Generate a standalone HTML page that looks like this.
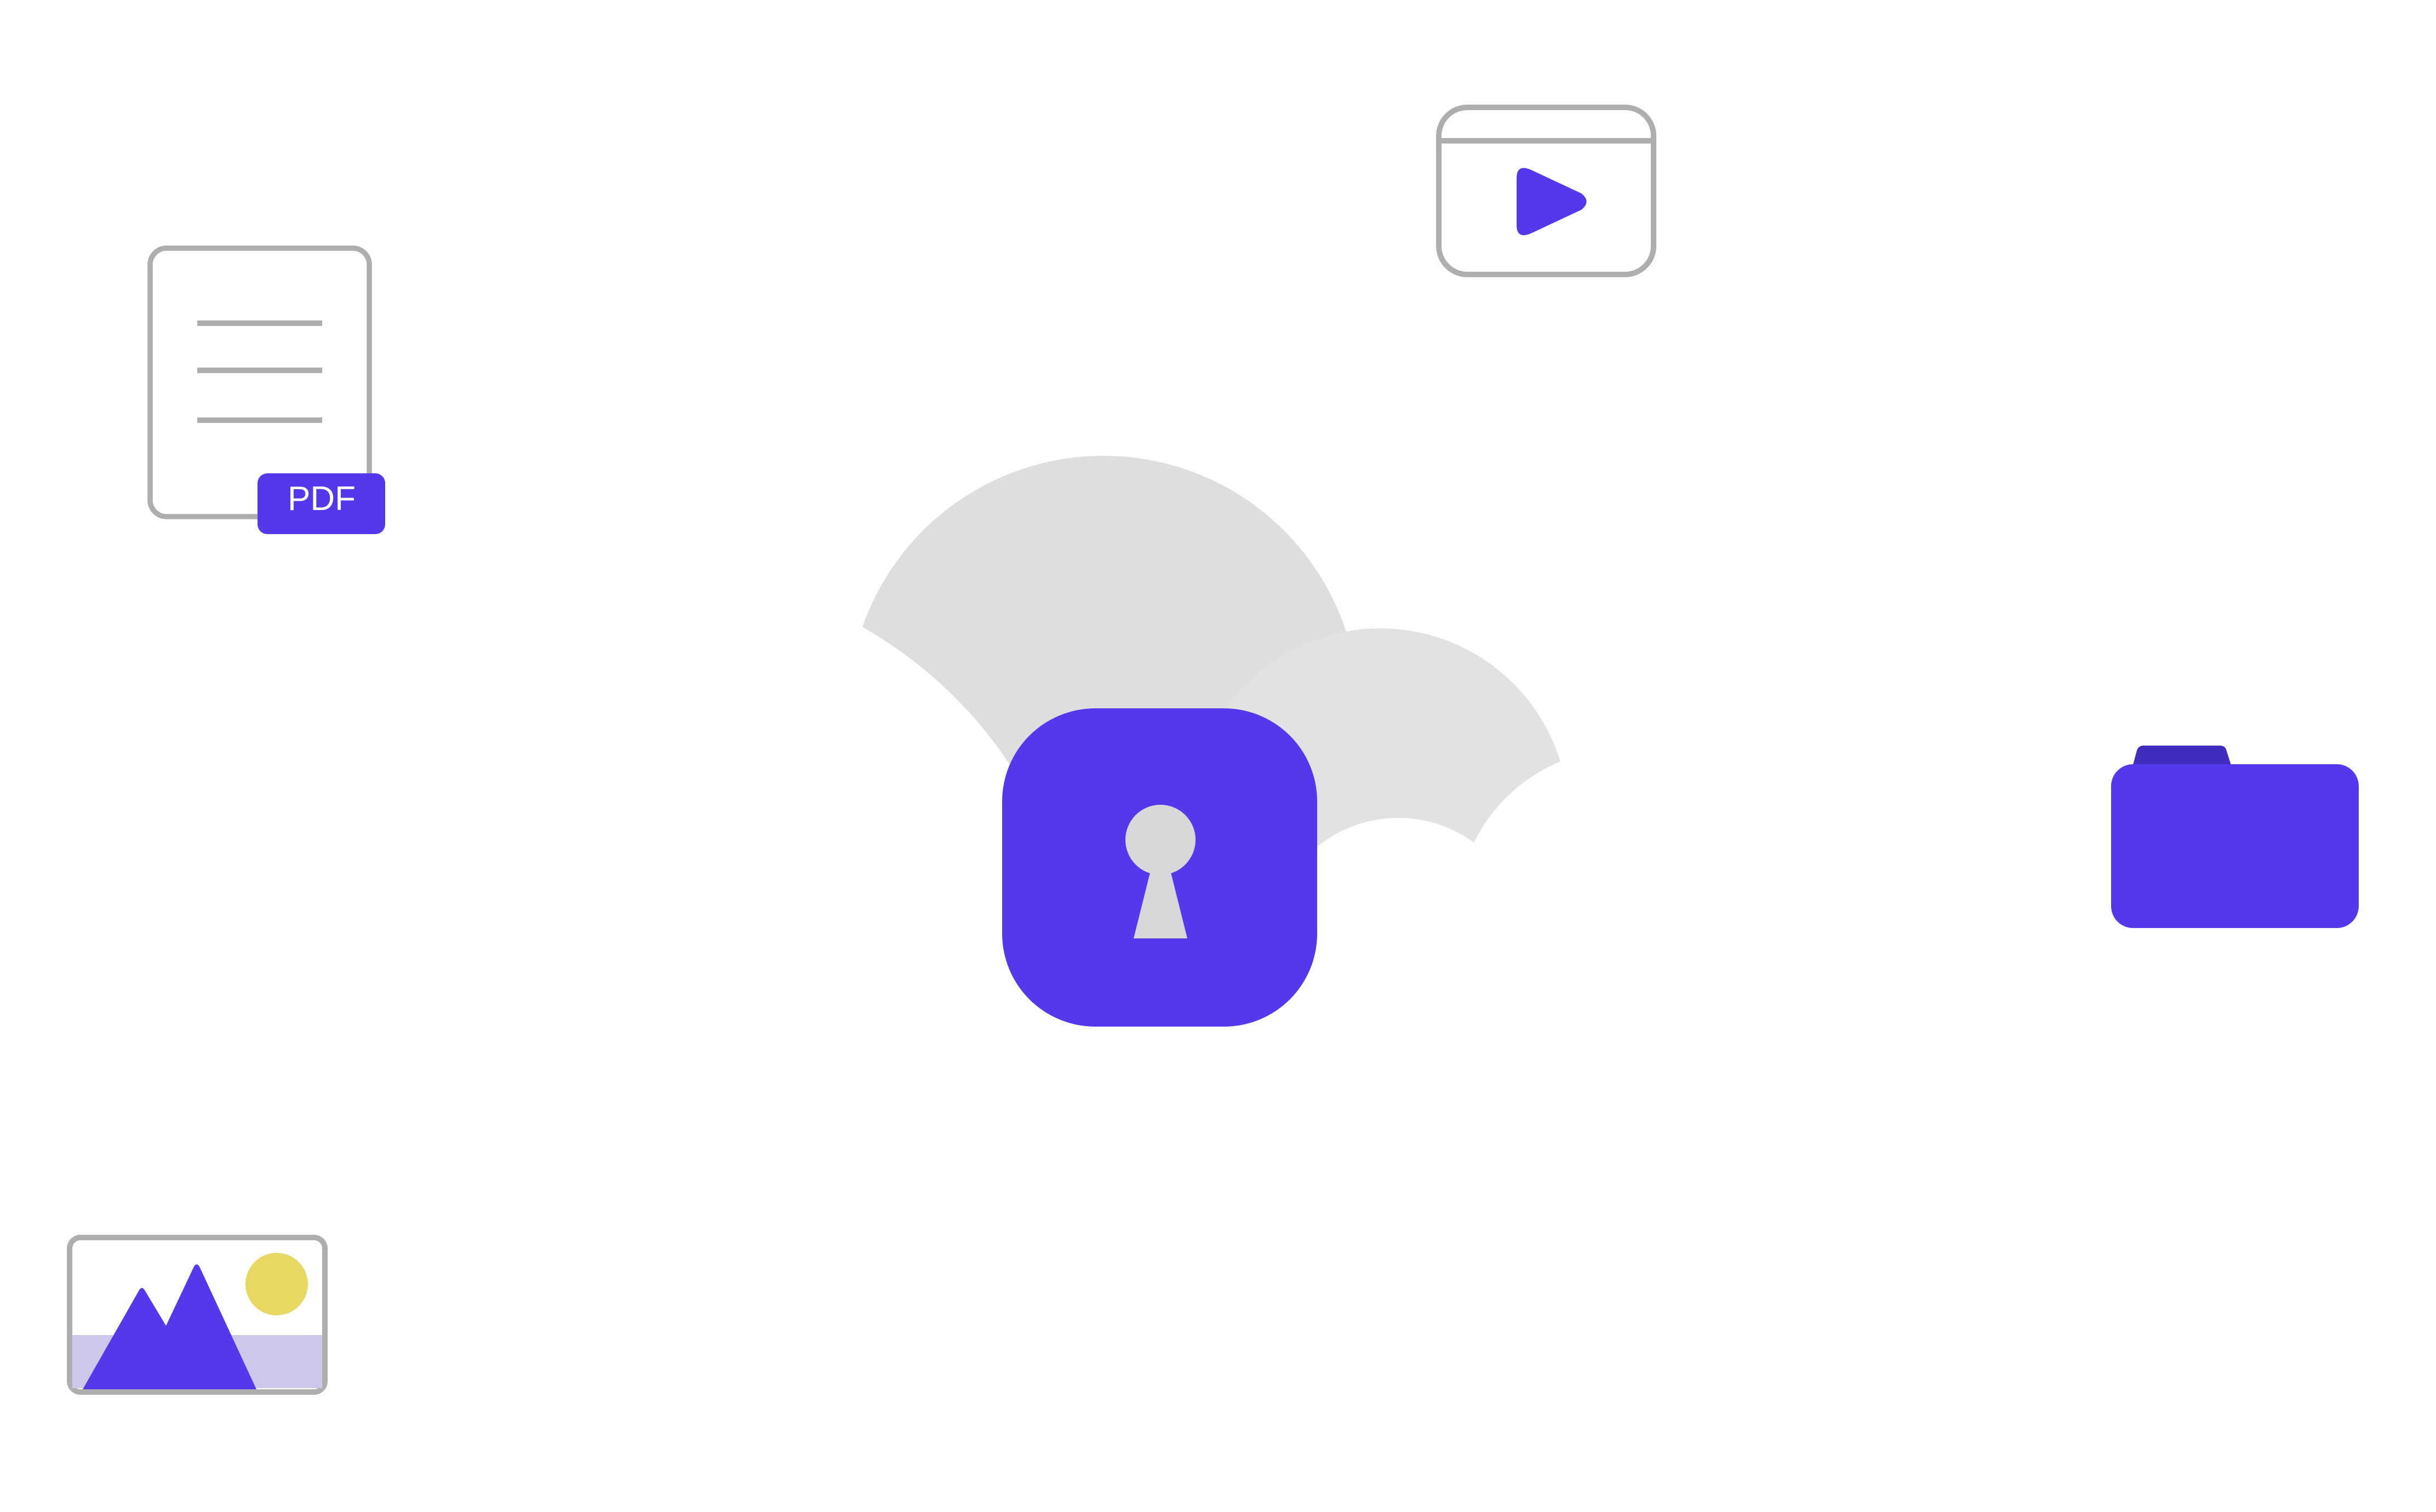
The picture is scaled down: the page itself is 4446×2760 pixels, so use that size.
<!DOCTYPE html>
<html><head><meta charset="utf-8"><style>html,body{margin:0;padding:0;background:#fff}svg{display:block}</style></head>
<body>
<svg width="4446" height="2760" viewBox="0 0 4446 2760" xmlns="http://www.w3.org/2000/svg">
<rect width="4446" height="2760" fill="#fff"/>
<!-- clouds -->
<circle cx="2014" cy="1298" r="466" fill="#dedede"/>
<circle cx="1185" cy="1831" r="789" fill="#fff"/>
<circle cx="2519" cy="1491" r="344" fill="#e2e2e2"/>
<circle cx="2552" cy="1728" r="235" fill="#fff"/>
<circle cx="2964" cy="1672" r="305" fill="#fff"/>
<!-- lock -->
<rect x="1829" y="1293" width="575" height="581" rx="170" fill="#5338ec"/>
<circle cx="2118" cy="1533" r="64" fill="#d8d8d8"/>
<polygon points="2101,1585 2135,1585 2167,1713 2069,1713" fill="#d8d8d8"/>
<!-- document -->
<rect x="274" y="453" width="400" height="490" rx="30" fill="#fff" stroke="#aeaeae" stroke-width="9.6"/>
<rect x="360" y="585" width="228" height="10" fill="#aeaeae"/>
<rect x="360" y="671" width="228" height="10" fill="#aeaeae"/>
<rect x="360" y="762" width="228" height="10" fill="#aeaeae"/>
<rect x="470" y="864" width="233" height="111" rx="18" fill="#5338ec"/>
<text x="587" y="931" text-anchor="middle" font-family="Liberation Sans, sans-serif" font-size="62" fill="#fff">PDF</text>
<!-- video -->
<rect x="2626" y="196" width="392" height="305" rx="52" fill="#fff" stroke="#aeaeae" stroke-width="10"/>
<line x1="2626" y1="257" x2="3018" y2="257" stroke="#aeaeae" stroke-width="10"/>
<path d="M2768,325 Q2768,300 2792,309 L2886,353 Q2905,368 2886,383 L2792,427 Q2768,436 2768,411 Z" fill="#5338ec"/>
<!-- folder -->
<path d="M3892,1400 L3900,1370 Q3903,1361 3912,1361 L4052,1361 Q4060,1361 4063,1368 L4073,1400 Z" fill="#3f2dbf"/>
<rect x="3853" y="1395" width="452" height="299" rx="40" fill="#5338ec"/>
<!-- image -->
<rect x="127" y="2259" width="466" height="282" rx="20" fill="#fff" stroke="#aeaeae" stroke-width="10"/>
<rect x="132" y="2437" width="456" height="97" fill="#cdc7ea"/>
<circle cx="505" cy="2344" r="57" fill="#e8d862"/>
<path d="M151,2536 L254,2355 Q259,2347 264,2355 L303,2420 L354,2312 Q359,2304 364,2312 L468,2536 Z" fill="#5338ec"/>
</svg>
</body></html>
